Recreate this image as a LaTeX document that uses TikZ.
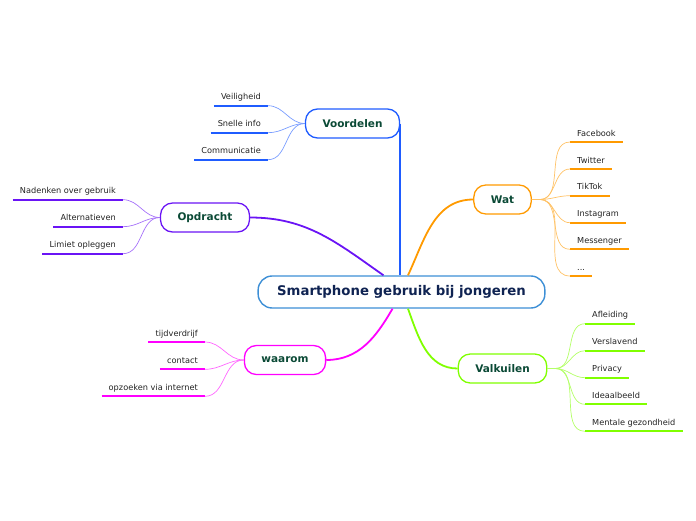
\documentclass[tikz,border=0pt]{standalone}
\usepackage{fontspec}
\setmainfont{DejaVu Sans}
\usepackage{xcolor}
\usetikzlibrary{positioning}

\definecolor{rootline}{HTML}{3D8FD6}
\definecolor{roottext}{HTML}{0F2352}
\definecolor{maintext}{HTML}{0B4A36}
\definecolor{leaftext}{HTML}{222222}
\definecolor{cvoor}{HTML}{1F5CFF}
\definecolor{copdr}{HTML}{6A14F5}
\definecolor{cwat}{HTML}{FF9A00}
\definecolor{cvalk}{HTML}{80FF00}
\definecolor{cwaar}{HTML}{FF00FF}

\begin{document}
\begin{tikzpicture}[
    x=1pt, y=-1pt,
    % === STYLES ===
    rootnode/.style={
        rectangle,
        draw=rootline,
        fill=white,
        line width=1.4pt,
        rounded corners=14pt,
        minimum height=32pt,
        inner xsep=19pt,
        text=roottext,
        font=\fontsize{13.3}{15}\selectfont\bfseries
    },
    topic/.style={
        rectangle,
        draw=#1,
        fill=white,
        line width=1.3pt,
        rounded corners=12pt,
        minimum height=29pt,
        inner xsep=17pt,
        text=maintext,
        font=\fontsize{10.5}{12}\selectfont\bfseries
    },
    leaf/.style={
        inner xsep=7pt,
        inner ysep=4pt,
        text height=5.8pt,
        text depth=1.6pt,
        text=leaftext,
        font=\fontsize{8.2}{10}\selectfont,
        append after command={
            (\tikzlastnode.south west) edge[draw=#1, line width=2pt] (\tikzlastnode.south east)
        }
    },
    branch/.style={
        draw=#1,
        line width=1.8pt
    },
    twig/.style={
        draw=#1!60,
        line width=0.7pt
    }
]
\useasboundingbox (0,0) rectangle (696,520);

% === CENTRE ===
\node[rootnode] (root) at (401.5,292) {Smartphone gebruik bij jongeren};

% === MAIN TOPICS ===
\node[topic=cvoor] (voor) at (352.5,123.5) {Voordelen};
\node[topic=copdr] (opdr) at (205,217.5) {Opdracht};
\node[topic=cwat] (wat) at (502.5,199.5) {Wat};
\node[topic=cvalk] (valk) at (502.5,368.5) {Valkuilen};
\node[topic=cwaar] (waar) at (285,360) {waarom};

% === LEAVES: VOORDELEN ===
\node[leaf=cvoor, anchor=south east] (veil) at (268,105.7) {Veiligheid};
\node[leaf=cvoor, anchor=south east] (snel) at (268,132.7) {Snelle info};
\node[leaf=cvoor, anchor=south east] (comm) at (268,159.7) {Communicatie};

% === LEAVES: OPDRACHT ===
\node[leaf=copdr, anchor=south east] (nadenken) at (123,199.7) {Nadenken over gebruik};
\node[leaf=copdr, anchor=south east] (altern) at (123,226.7) {Alternatieven};
\node[leaf=copdr, anchor=south east] (limiet) at (123,253.7) {Limiet opleggen};

% === LEAVES: WAT ===
\node[leaf=cwat, anchor=south west] (facebook) at (570,142) {Facebook};
\node[leaf=cwat, anchor=south west] (twitter) at (570,169) {Twitter};
\node[leaf=cwat, anchor=south west] (tiktok) at (570,195.7) {TikTok};
\node[leaf=cwat, anchor=south west] (insta) at (570,222.7) {Instagram};
\node[leaf=cwat, anchor=south west] (messenger) at (570,249.3) {Messenger};
\node[leaf=cwat, anchor=south west] (dots) at (570,276) {...};

% === LEAVES: VALKUILEN ===
\node[leaf=cvalk, anchor=south west] (afleiding) at (585,323.7) {Afleiding};
\node[leaf=cvalk, anchor=south west] (verslavend) at (585,350.7) {Verslavend};
\node[leaf=cvalk, anchor=south west] (privacy) at (585,377.7) {Privacy};
\node[leaf=cvalk, anchor=south west] (ideaal) at (585,404.3) {Ideaalbeeld};
\node[leaf=cvalk, anchor=south west] (mentaal) at (585,431.3) {Mentale gezondheid};

% === LEAVES: WAAROM ===
\node[leaf=cwaar, anchor=south east] (tijd) at (205,342) {tijdverdrijf};
\node[leaf=cwaar, anchor=south east] (contact) at (205,369.3) {contact};
\node[leaf=cwaar, anchor=south east] (opzoeken) at (205,396.3) {opzoeken via internet};

% === CONNECTIONS TO CENTRE ===
\draw[branch=cvoor] (voor.east) -- (voor.east |- root.north);
\draw[branch=copdr] (opdr.east) to[out=0,in=145] ([xshift=-18pt]root.north);
\draw[branch=cwat] (wat.west) to[out=180,in=65] ([xshift=6.5pt]root.north);
\draw[branch=cvalk] (valk.west) to[out=180,in=-70] ([xshift=6.5pt]root.south);
\draw[branch=cwaar] (waar.east) to[out=0,in=-120] ([xshift=-9pt]root.south);

% === CONNECTIONS TO LEAVES ===
% Voordelen
\draw[twig=cvoor] (voor.west) to[out=180,in=0] (veil.south east);
\draw[twig=cvoor] (voor.west) to[out=180,in=0] (snel.south east);
\draw[twig=cvoor] (voor.west) to[out=180,in=0] (comm.south east);

% Opdracht
\draw[twig=copdr] (opdr.west) to[out=180,in=0] (nadenken.south east);
\draw[twig=copdr] (opdr.west) to[out=180,in=0] (altern.south east);
\draw[twig=copdr] (opdr.west) to[out=180,in=0] (limiet.south east);

% Wat
\draw[twig=cwat] (wat.east) -- ++(8,0) to[out=0,in=180] (facebook.south west);
\draw[twig=cwat] (wat.east) -- ++(8,0) to[out=0,in=180] (twitter.south west);
\draw[twig=cwat] (wat.east) -- ++(8,0) to[out=0,in=180] (tiktok.south west);
\draw[twig=cwat] (wat.east) -- ++(8,0) to[out=0,in=180] (insta.south west);
\draw[twig=cwat] (wat.east) -- ++(8,0) to[out=0,in=180] (messenger.south west);
\draw[twig=cwat] (wat.east) -- ++(8,0) to[out=0,in=180] (dots.south west);

% Valkuilen
\draw[twig=cvalk] (valk.east) -- ++(8,0) to[out=0,in=180] (afleiding.south west);
\draw[twig=cvalk] (valk.east) -- ++(8,0) to[out=0,in=180] (verslavend.south west);
\draw[twig=cvalk] (valk.east) -- ++(8,0) to[out=0,in=180] (privacy.south west);
\draw[twig=cvalk] (valk.east) -- ++(8,0) to[out=0,in=180] (ideaal.south west);
\draw[twig=cvalk] (valk.east) -- ++(8,0) to[out=0,in=180] (mentaal.south west);

% waarom
\draw[twig=cwaar] (waar.west) to[out=180,in=0] (tijd.south east);
\draw[twig=cwaar] (waar.west) to[out=180,in=0] (contact.south east);
\draw[twig=cwaar] (waar.west) to[out=180,in=0] (opzoeken.south east);

\end{tikzpicture}
\end{document}
